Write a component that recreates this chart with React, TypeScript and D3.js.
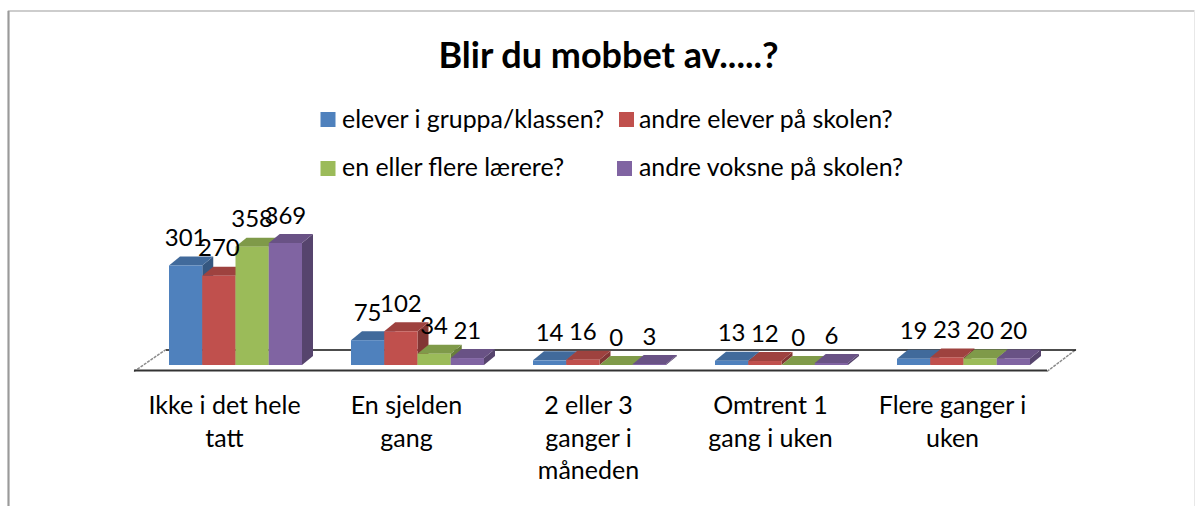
import React from "react";
import * as d3 from "d3";

const titleText = "Blir du mobbet av.....?";
const categories = ["Ikke i det hele tatt", "En sjelden gang", "2 eller 3 ganger i måneden", "Omtrent 1 gang i uken", "Flere ganger i uken"];
const categoryLines = [["Ikke i det hele", "tatt"], ["En sjelden", "gang"], ["2 eller 3", "ganger i", "måneden"], ["Omtrent 1", "gang i uken"], ["Flere ganger i", "uken"]];
const seriesNames = ["elever i gruppa/klassen?", "andre elever på skolen?", "en eller flere lærere?", "andre voksne på skolen?"];
const seriesColors = ["#4F81BD", "#C0504D", "#9BBB59", "#8064A2"];
const elever = [301, 75, 14, 13, 19];
const andreElever = [270, 102, 16, 12, 23];
const laerere = [358, 34, 0, 0, 20];
const voksne = [369, 21, 3, 6, 20];
const seriesValues = [elever, andreElever, laerere, voksne];

const W = 1195, H = 506;
const baseY = 365, depthX = 11, depthY = 9;
const x0 = d3.scaleBand<string>().domain(categories).range([144.5, 1054.5]);
const x1 = d3.scaleBand<string>().domain(seriesNames).range([24.5, 157.5]);
const y = d3.scaleLinear().domain([0, 369]).range([baseY, 243]);
const font = "Lato, Carlito, 'Open Sans', sans-serif";

const shade = (c: string, k: number) => d3.rgb(c).darker(k).formatHex();
const legendPos = [
  { sx: 320.5, sy: 112, tx: 342, ty: 128 },
  { sx: 619, sy: 112, tx: 639, ty: 128 },
  { sx: 320.5, sy: 161, tx: 342, ty: 176 },
  { sx: 617, sy: 161, tx: 639, ty: 176 },
];

export default function App() {
  const w = x1.bandwidth();
  return (
    <svg width={W} height={H} viewBox={`0 0 ${W} ${H}`} style={{ position: "absolute", left: 0, top: 0, background: "#fff" }} fontFamily={font}>
      <path d={`M1194.5 11H8.5V${H}`} fill="none" stroke="#bdbdbd" strokeWidth={1.5} />
      <line x1={8.5} x2={8.5} y1={11} y2={H} stroke="#9a9a9a" strokeWidth={2} />
      <line x1={1194.5} x2={1194.5} y1={11} y2={H} stroke="#e8e8e8" strokeWidth={1} />
      <text x={608.5} y={68} textAnchor="middle" fontSize={36} fontWeight={700} fill="#000">{titleText}</text>

      {seriesNames.map((s, i) => (
        <g key={s}>
          <rect x={legendPos[i].sx} y={legendPos[i].sy} width={15} height={15} fill={seriesColors[i]} />
          <text x={legendPos[i].tx} y={legendPos[i].ty} fontSize={24.9} fill="#000">{s}</text>
        </g>
      ))}

      <path d="M134 371.5L166 349.5" stroke="#8a8a8a" strokeWidth={1.5} strokeDasharray="3 1" fill="none" />
      <path d="M1047 371.5L1076 349.5" stroke="#8a8a8a" strokeWidth={1.5} strokeDasharray="3 1" fill="none" />
      <line x1={166} x2={1076} y1={350} y2={350} stroke="#111" strokeWidth={1.5} />
      <line x1={134} x2={1047} y1={370.5} y2={370.5} stroke="#333" strokeWidth={2} />

      {categories.map((c, ci) => (
        <g key={c}>
          {seriesNames.map((s, si) => {
            const v = seriesValues[si][ci];
            const left = x0(c)! + x1(s)!;
            const top = y(v);
            const col = seriesColors[si];
            return (
              <g key={s}>
                <path d={`M${left + w} ${top}L${left + w + depthX} ${top - depthY}V${baseY - depthY}L${left + w} ${baseY}Z`} fill={shade(col, 1.1)} />
                <path d={`M${left} ${top}L${left + depthX} ${top - depthY}H${left + w + depthX}L${left + w} ${top}Z`} fill={shade(col, 0.55)} />
                <rect x={left} y={top} width={w} height={baseY - top} fill={col} />
              </g>
            );
          })}
        </g>
      ))}

      {categories.map((c, ci) =>
        seriesNames.map((s, si) => {
          const v = seriesValues[si][ci];
          return (
            <text key={c + s} x={x0(c)! + x1(s)! + w / 2} y={y(v) - 19.5} textAnchor="middle" fontSize={24} fill="#000">{v}</text>
          );
        })
      )}

      {categories.map((c, ci) => (
        <text key={c} textAnchor="middle" fontSize={25} fill="#000">
          {categoryLines[ci].map((line, li) => (
            <tspan key={li} x={x0(c)! + x0.bandwidth() / 2 - 11} y={414 + li * 32.5}>{line}</tspan>
          ))}
        </text>
      ))}
    </svg>
  );
}
